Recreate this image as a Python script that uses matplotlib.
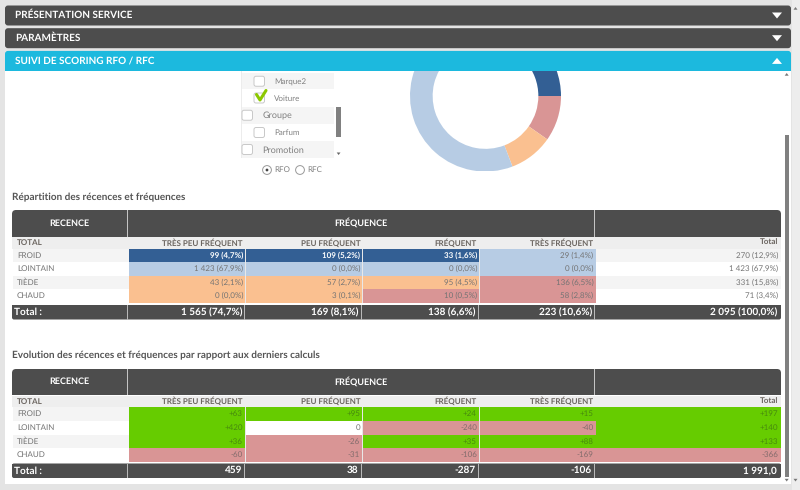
import matplotlib
matplotlib.use("Agg")
from matplotlib import pyplot as plt
from matplotlib.patches import Rectangle, FancyBboxPatch, Circle, Polygon

plt.rcParams["font.family"] = ["Lato", "DejaVu Sans"]
plt.rcParams["text.hinting"] = "no_hinting"
plt.rcParams["text.hinting_factor"] = 1

# Donnees
sections = ["PRÉSENTATION SERVICE", "PARAMÈTRES", "SUIVI DE SCORING RFO / RFC"]
filter_labels = ["Marque2", "Voiture", "Groupe", "Parfum", "Promotion"]
score_modes = ["RFO", "RFC"]

recence = ["FROID", "LOINTAIN", "TIÈDE", "CHAUD"]
frequence = ["TRÈS PEU FRÉQUENT", "PEU FRÉQUENT", "FRÉQUENT", "TRÈS FRÉQUENT"]

counts = [[99, 109, 33, 29],
          [1423, 0, 0, 0],
          [43, 57, 95, 136],
          [0, 3, 10, 58]]
percents = [[4.7, 5.2, 1.6, 1.4],
            [67.9, 0.0, 0.0, 0.0],
            [2.1, 2.7, 4.5, 6.5],
            [0.0, 0.1, 0.5, 2.8]]
row_totals = [270, 1423, 331, 71]
row_percents = [12.9, 67.9, 15.8, 3.4]
col_totals = [1565, 169, 138, 223, 2095]
col_percents = [74.7, 8.1, 6.6, 10.6, 100.0]

# groupe de chaque cellule : 0 froid, 1 lointain, 2 tiede, 3 chaud
segments = [[0, 0, 0, 1],
            [1, 1, 1, 1],
            [2, 2, 2, 3],
            [2, 2, 3, 3]]
donut_values = [204, 198, 1452, 241]

evolution = [[63, 95, 24, 15, 197],
             [420, 0, -240, -40, 140],
             [36, -26, 35, 88, 133],
             [-60, -31, -106, -169, -366]]
evolution_totals = ["459", "38", "-287", "-106", "1 991,0"]

# Couleurs
DARK = "#4d4d4d"
CYAN = "#1cb9de"
BLUE = "#335f94"
LIGHT_BLUE = "#b7cce4"
ORANGE = "#fac090"
PINK = "#d99595"
GREEN = "#66cc00"
segment_colors = [BLUE, LIGHT_BLUE, ORANGE, PINK]
TXT = "#747474"

# Positions en pixels
col_x = [128.7, 245.5, 362.7, 479.5, 596, 781]
sep_x = [127.5, 244.5, 361, 478, 594.5]


def fr_number(n):
    return f"{n:,}".replace(",", " ")


def fr_cell(n, p):
    return f"{fr_number(n)} ({p:.1f}%)".replace(".", ",")


def signed(n):
    return f"+{n}" if n > 0 else str(n)


fig = plt.figure(figsize=(8, 4.9), dpi=100, facecolor="#e4e4e4")
ax = fig.add_axes([0, 0, 1, 1], zorder=1)
ax.set_xlim(0, 800)
ax.set_ylim(490, 0)
ax.axis("off")


def rect(x0, y0, x1, y1, color, z=2):
    ax.add_patch(Rectangle((x0, y0), x1 - x0, y1 - y0, fc=color, ec="none", zorder=z))


def rounded(x0, y0, x1, y1, color, z=2, r=3, lw=0, ec="none"):
    ax.add_patch(FancyBboxPatch((x0, y0), x1 - x0, y1 - y0,
                                boxstyle=f"round,pad=0,rounding_size={r}",
                                fc=color, ec=ec, lw=lw, zorder=z))


def label(x, y, s, size=6.0, color=TXT, weight="normal", ha="left", z=6):
    ax.text(x, y, s, fontsize=size, color=color, fontweight=weight, ha=ha,
            va="center", zorder=z)


# Fond et bandeaux
rect(5, 60, 791, 484, "white", 1)
rect(792, 0, 800, 490, "#ededed", 1)
for i, name in enumerate(sections):
    y0 = 5.5 + i * 22.7
    color = CYAN if i == 2 else DARK
    rounded(5, y0, 791, y0 + 20, color, 3)
    if i == 2:
        rect(5, y0 + 8, 791, y0 + 20, color, 3)
    label(15, y0 + 9.5, name, size=6.9, color="white", weight="bold")
    tri_y = y0 + 10
    if i == 2:
        pts = [(772, tri_y + 3), (777, tri_y - 3), (782, tri_y + 3), (772, tri_y + 3)]
    else:
        pts = [(772, tri_y - 3), (782, tri_y - 3), (777, tri_y + 3), (772, tri_y - 3)]
    ax.add_patch(Polygon(pts, fc="white", ec="none", zorder=4))

# Barres de defilement
rect(784.5, 135, 789, 477, "#808080", 2)
for x, y, d in [(786.7, 74.5, -1), (786.7, 480, 1), (795.5, 8.5, -1), (795.5, 480, 1)]:
    ax.add_patch(Polygon([(x - 2, y - d * 1.2), (x + 2, y - d * 1.2), (x, y + d * 1.5)],
                         fc="#777777", ec="none", zorder=4))

# Anneau, coupe par le bandeau du haut
pie_ax = fig.add_axes([(485.5 - 75.5) / 800, 1 - (96 + 75.5) / 490, 151 / 800, (96 + 75.5 - 71) / 490], zorder=2)
wedges, _ = pie_ax.pie(donut_values, colors=[PINK, ORANGE, LIGHT_BLUE, BLUE], startangle=0,
                       counterclock=False, radius=1, wedgeprops={"width": 0.30, "lw": 0})
pie_ax.set_aspect("auto")
pie_ax.set_xlim(-1, 1)
pie_ax.set_ylim(-1, (96 - 71) / 75.5)
for w in wedges:
    w.set_clip_on(True)

# Liste de filtres
rect(241, 71, 343, 158.5, "#ececec", 2)
rect(241.5, 71, 342.5, 158, "white", 2)
row_y = [73, 89.5, 106.5, 124, 141, 158]
for i, name in enumerate(filter_labels):
    if i % 2 == 0:
        rect(242, row_y[i], 334, row_y[i + 1], "#f5f5f5", 3)
    top_level = name in ("Groupe", "Promotion")
    bx = 242 if top_level else 254
    tx = 262.5 if top_level else 274
    my = (row_y[i] + row_y[i + 1]) / 2
    rounded(bx, my - 5, bx + 10.5, my + 5, "white", 4, r=2, lw=0.7, ec="#c8c8c8")
    label(tx, my + (1.2 if i == 0 else 0.5), name, size=6.6 if top_level else 6.1, color="#808080")
ax.plot([256.5, 260, 266], [94.5, 100, 90.5], color="#8cc800", lw=2.2, zorder=5,
        solid_capstyle="round", solid_joinstyle="round")
rect(336, 106.5, 341, 137, "#808080", 4)
ax.add_patch(Polygon([(336.7, 152.5), (340.5, 152.5), (338.6, 155)], fc="#666666", ec="none", zorder=4))

for i, (name, cx) in enumerate(zip(score_modes, [267, 300])):
    ax.add_patch(Circle((cx, 170), 4.4, fc="white", ec="#999999", lw=0.7, zorder=4))
    if i == 0:
        ax.add_patch(Circle((cx, 170), 1.4, fc="#444444", ec="none", zorder=5))
    label(cx + 7, 170, name, size=6.0, color="#808080")


def draw_table(title, title_y, head_top, head_bot, sub_bot, row_edges, tot_top, tot_bot):
    label(12, title_y, title, size=7.5, color="#555555", weight="bold")
    rounded(12, head_top, 781, head_bot, DARK, 2, r=4)
    rect(12, head_top + 6, 781, head_bot, DARK, 2)
    for x in [127.5, 594.5]:
        rect(x - 0.5, head_top, x + 0.5, head_bot, "#c4c4c4", 3)
    label(69.5, (head_top + head_bot) / 2 - 0.5, "RECENCE", size=6.8, color="white", weight="bold", ha="center")
    label(361, (head_top + head_bot) / 2 - 0.8, "FRÉQUENCE", size=6.8, color="white", weight="bold", ha="center")
    rect(12, head_bot + 0.7, 781, sub_bot, "#eeeeee", 2)
    label(17, (head_bot + sub_bot) / 2 + 0.5, "TOTAL", size=5.9, color="#6b6560", weight="bold")
    sub_y = (head_bot + sub_bot) / 2 + 0.5
    for j, name in enumerate(frequence):
        label(col_x[j + 1] - 2.5, sub_y, name, size=5.8, color="#6b6560", weight="bold", ha="right")
    label(778.5, sub_y, "Total", size=5.9, color="#6b6560", weight="bold", ha="right")
    for i, name in enumerate(recence):
        if i % 2 == 0:
            rect(13, row_edges[i], 781, row_edges[i + 1], "#f4f4f4", 2)
        label(17, (row_edges[i] + row_edges[i + 1]) / 2, name)
    rounded(12, tot_top, 781, tot_bot, DARK, 2, r=2)
    rect(12, tot_top, 781, tot_top + 5, DARK, 2)
    for x in sep_x:
        rect(x - 0.5, tot_top, x + 0.5, tot_bot, "#b8b8b8", 3)
    label(14, (tot_top + tot_bot) / 2, "Total :", size=6.9, color="white", weight="bold")


# Tableau de repartition
rows1 = [249, 262, 275.7, 289, 302.7]
draw_table("Répartition des récences et fréquences", 197, 210, 236.7, 248.5, rows1, 305, 319.5)
for i in range(4):
    my = (rows1[i] + rows1[i + 1]) / 2
    for j in range(4):
        seg = segments[i][j]
        rect(col_x[j], rows1[i], col_x[j + 1], rows1[i + 1], segment_colors[seg], 3)
        label(col_x[j + 1] - 2.5, my, fr_cell(counts[i][j], percents[i][j]),
              color="white" if seg == 0 else TXT, weight="bold" if seg == 0 else "normal", ha="right")
    label(778.5, my, fr_cell(row_totals[i], row_percents[i]), ha="right")
for j in range(1, 4):
    # petites lignes claires entre colonnes
    rect(col_x[j] - 0.4, rows1[0], col_x[j] + 0.4, rows1[-1], "#e8e8e8", 4)
for j in range(5):
    right = sep_x[j + 1] - 2.5 if j < 4 else 777
    label(right, 312, fr_cell(col_totals[j], col_percents[j]), size=7.2, color="white", weight="bold", ha="right")

# Tableau d'evolution
rows2 = [407, 421, 434.7, 448, 462]
draw_table("Evolution des récences et fréquences par rapport aux derniers calculs", 355.5, 369, 395, 406.5, rows2, 463.5, 478)
for i in range(4):
    my = (rows2[i] + rows2[i + 1]) / 2
    for j in range(5):
        v = evolution[i][j]
        if v > 0:
            color, tc = GREEN, "#478a0e"
        elif v < 0:
            color, tc = PINK, "#836c6c"
        else:
            color, tc = "white", TXT
        rect(col_x[j], rows2[i], col_x[j + 1], rows2[i + 1], color, 3)
        right = col_x[j + 1] - 2.5
        label(right, my, signed(v), color=tc, ha="right")
for j in range(1, 5):
    rect(col_x[j] - 0.4, rows2[0], col_x[j] + 0.4, rows2[-1], "#e8e8e8", 4)
for j in range(5):
    right = sep_x[j + 1] - 2.5 if j < 4 else 777
    label(right, 470.5, evolution_totals[j], size=7.2, color="white", weight="bold", ha="right")

fig.savefig("out.png", dpi=100, facecolor=fig.get_facecolor())
